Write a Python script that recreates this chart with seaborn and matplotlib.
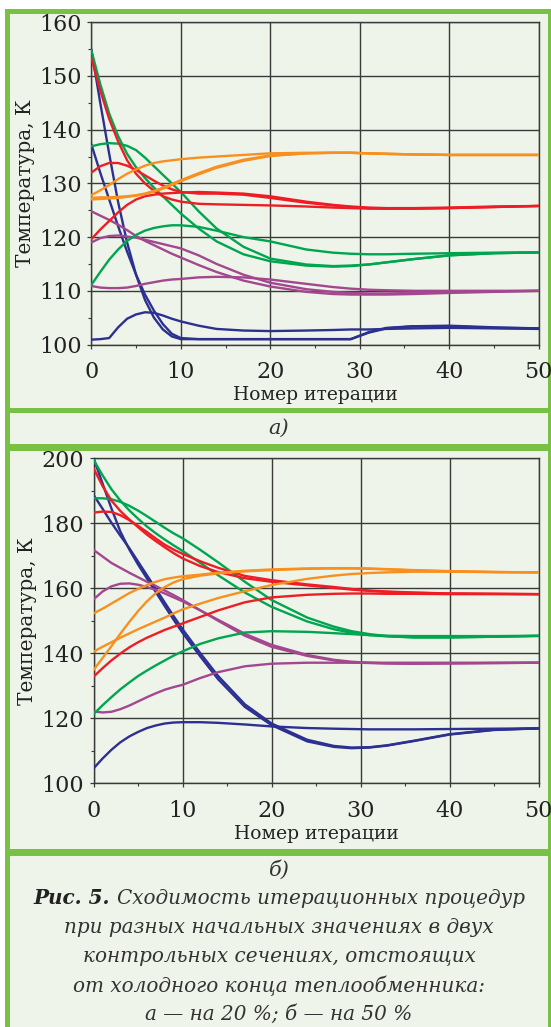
import matplotlib
matplotlib.use("Agg")
import matplotlib.pyplot as plt
from matplotlib.patches import Rectangle
from matplotlib.ticker import MultipleLocator
import numpy as np
import pandas as pd
import seaborn as sns

iters = [0, 1, 2, 3, 4, 5, 6, 7, 8, 9, 10, 12, 14, 17, 20, 24, 27, 29, 31, 33, 36, 40, 45, 50]

# panel a) -- 20 % from the cold end
a_blue1 = [155, 145, 135.5, 126.5, 119, 113, 108.3, 105, 102.8, 101.5, 101.0, 101, 101, 101, 101, 101, 101, 101, 102.3, 103.1, 103.4, 103.4, 103.1, 103.0]
a_blue2 = [137.3, 132, 127, 122, 117.3, 113, 109.3, 106.3, 103.8, 102, 101.2, 101, 101, 101, 101, 101, 101, 101, 102.2, 103.0, 103.4, 103.5, 103.2, 103.0]
a_blue3 = [100.9, 101.0, 101.2, 103.2, 104.8, 105.6, 106.0, 105.9, 105.4, 104.8, 104.3, 103.5, 102.9, 102.6, 102.5, 102.6, 102.7, 102.8, 102.8, 102.9, 103.0, 103.1, 103.0, 102.9]
a_purple1 = [124.8, 124, 123.2, 122.3, 121.3, 120.2, 119.3, 118.5, 117.7, 116.9, 116.2, 114.8, 113.5, 111.9, 110.8, 109.8, 109.4, 109.3, 109.3, 109.3, 109.4, 109.6, 109.8, 110.0]
a_purple2 = [119.0, 119.8, 120.2, 120.3, 120.1, 119.9, 119.5, 119.1, 118.7, 118.3, 117.9, 116.6, 115.0, 113.0, 111.5, 110.3, 109.8, 109.6, 109.5, 109.5, 109.6, 109.8, 109.9, 110.0]
a_purple3 = [110.9, 110.6, 110.5, 110.5, 110.6, 110.9, 111.3, 111.6, 111.9, 112.1, 112.2, 112.5, 112.6, 112.5, 112.1, 111.3, 110.7, 110.4, 110.2, 110.1, 110.0, 110.0, 110.0, 110.0]
a_green1 = [154.8, 148.5, 143, 138.8, 135.5, 133, 131, 129.2, 127.6, 126, 124.4, 121.6, 119.2, 116.8, 115.5, 114.7, 114.5, 114.6, 114.9, 115.3, 115.9, 116.6, 117.0, 117.15]
a_green2 = [136.9, 137.3, 137.5, 137.4, 137.0, 136.2, 134.8, 133.2, 131.6, 130.0, 128.4, 124.8, 121.6, 118.2, 116.0, 114.9, 114.6, 114.7, 114.9, 115.3, 115.9, 116.6, 117.0, 117.15]
a_green3 = [111.1, 113.5, 115.8, 117.7, 119.3, 120.4, 121.2, 121.7, 122.0, 122.2, 122.2, 121.9, 121.2, 120.0, 119.2, 117.7, 117.1, 116.9, 116.8, 116.8, 116.9, 117.0, 117.1, 117.15]
a_red1 = [153.4, 147.3, 142, 137.8, 134.3, 131.8, 130, 128.6, 127.6, 127, 126.6, 126.2, 126.1, 126.0, 125.9, 125.7, 125.5, 125.4, 125.3, 125.3, 125.3, 125.4, 125.6, 125.8]
a_red2 = [132.0, 133.2, 133.8, 133.8, 133.3, 132.5, 131.5, 130.5, 129.6, 128.9, 128.4, 128.1, 128.1, 127.9, 127.3, 126.4, 125.9, 125.6, 125.4, 125.3, 125.3, 125.4, 125.6, 125.8]
a_red3 = [119.6, 121.4, 123.0, 124.6, 126.0, 127.0, 127.6, 127.9, 128.1, 128.2, 128.3, 128.4, 128.3, 128.1, 127.6, 126.6, 126.0, 125.7, 125.5, 125.4, 125.4, 125.5, 125.7, 125.8]
a_orange1 = [127.8, 128.7, 129.7, 130.8, 131.8, 132.6, 133.3, 133.8, 134.1, 134.3, 134.5, 134.8, 135.0, 135.3, 135.6, 135.7, 135.7, 135.7, 135.6, 135.5, 135.4, 135.3, 135.3, 135.3]
a_orange2 = [127.3, 127.4, 127.4, 127.5, 127.6, 127.8, 128.1, 128.6, 129.2, 129.9, 130.6, 131.9, 133.1, 134.4, 135.2, 135.6, 135.7, 135.7, 135.6, 135.5, 135.4, 135.3, 135.3, 135.3]
a_orange3 = [127.0, 127.1, 127.2, 127.3, 127.5, 127.7, 128.0, 128.5, 129.0, 129.7, 130.4, 131.7, 132.9, 134.2, 135.1, 135.6, 135.7, 135.7, 135.6, 135.5, 135.4, 135.3, 135.3, 135.3]

# panel b) -- 50 % from the cold end
b_blue1 = [200, 192.3, 184.6, 177.5, 172, 167.3, 163, 158.8, 154.5, 150.3, 146.3, 139, 132, 123.5, 117.9, 112.9, 111.2, 110.8, 111.0, 111.6, 113.0, 115.0, 116.4, 116.9]
b_blue2 = [188.7, 184.5, 180.2, 176.2, 172.4, 168.2, 164, 159.8, 155.6, 151.4, 147.4, 140, 133, 124.3, 118.4, 113.4, 111.5, 111.0, 111.1, 111.7, 113.1, 115.1, 116.5, 116.9]
b_blue3 = [104.6, 107.6, 110.3, 112.6, 114.4, 115.8, 117.0, 117.8, 118.4, 118.7, 118.8, 118.8, 118.6, 118.1, 117.5, 117.0, 116.8, 116.7, 116.6, 116.6, 116.6, 116.7, 116.8, 116.9]
b_purple1 = [171.8, 169.8, 167.8, 166.3, 164.8, 163.4, 162, 160.7, 159.3, 157.9, 156.4, 153.2, 150, 145.4, 142, 139.2, 137.8, 137.2, 137.0, 136.9, 136.8, 136.9, 137.0, 137.1]
b_purple2 = [156.6, 159.0, 160.6, 161.4, 161.5, 161.1, 160.4, 159.5, 158.4, 157.2, 156.0, 153.2, 150.3, 146.0, 142.6, 139.5, 138.0, 137.4, 137.1, 136.9, 136.8, 136.9, 137.0, 137.1]
b_purple3 = [122.1, 121.8, 122.0, 122.8, 123.9, 125.2, 126.5, 127.7, 128.8, 129.6, 130.3, 132.4, 134.2, 136.0, 136.8, 137.1, 137.1, 137.1, 137.1, 137.1, 137.1, 137.1, 137.1, 137.1]
b_green1 = [199.5, 194.8, 190.5, 187, 184, 181.4, 179, 176.9, 175, 173.2, 171.5, 167.8, 164, 158.7, 154.3, 149.8, 147.4, 146.3, 145.6, 145.2, 144.9, 144.9, 145.1, 145.3]
b_green2 = [187.7, 187.7, 187.4, 186.6, 185.4, 183.9, 182.2, 180.4, 178.6, 176.9, 175.4, 171.8, 168, 162, 156.4, 151, 148.2, 146.8, 145.9, 145.3, 144.9, 144.9, 145.1, 145.4]
b_green3 = [121.3, 124.0, 126.5, 128.9, 131.0, 133.0, 134.7, 136.3, 137.8, 139.3, 140.6, 142.9, 144.6, 146.4, 146.8, 146.6, 146.2, 145.9, 145.6, 145.4, 145.3, 145.3, 145.3, 145.4]
b_red1 = [196.9, 191.5, 187, 183.8, 181.2, 178.8, 176.5, 174.5, 172.6, 170.8, 169.2, 166.8, 165, 163.1, 162, 160.9, 160.1, 159.6, 159.2, 158.9, 158.6, 158.4, 158.3, 158.2]
b_red2 = [183.3, 183.6, 183.5, 182.5, 181, 179.2, 177.3, 175.3, 173.4, 171.9, 170.6, 168.3, 166.3, 163.8, 162.5, 161.2, 160.4, 159.8, 159.3, 159.0, 158.7, 158.4, 158.3, 158.2]
b_red3 = [132.8, 135.4, 137.8, 139.9, 141.8, 143.4, 144.8, 146.0, 147.2, 148.2, 149.2, 151.2, 153.2, 155.7, 157.2, 158.0, 158.3, 158.4, 158.4, 158.3, 158.3, 158.2, 158.2, 158.2]
b_orange1 = [152.3, 153.7, 155.3, 156.9, 158.5, 159.8, 161.0, 162.0, 162.8, 163.3, 163.7, 164.2, 164.8, 165.4, 165.8, 166.1, 166.2, 166.2, 166.1, 165.9, 165.6, 165.3, 165.0, 164.9]
b_orange2 = [140.5, 142.0, 143.4, 144.8, 146.1, 147.4, 148.6, 149.8, 151.0, 152.3, 153.5, 155.3, 157.0, 159.1, 161.0, 162.9, 163.9, 164.4, 164.7, 164.9, 165.1, 165.1, 165.0, 164.9]
b_orange3 = [134.9, 138.5, 142.2, 146.0, 149.6, 153.0, 156.0, 158.5, 160.4, 161.8, 162.8, 163.9, 164.6, 165.2, 165.6, 166.0, 166.1, 166.1, 166.0, 165.8, 165.5, 165.2, 165.0, 164.9]

colors = {
    "blue": "#2c3091",
    "purple": "#a3478f",
    "green": "#00a54f",
    "red": "#ee1d25",
    "orange": "#f7901e",
}
frame_green = "#78c145"
panel_bg = "#eef4e9"
grid_col = "#3a3a3a"

curves_a = {
    "blue1": a_blue1, "blue2": a_blue2, "blue3": a_blue3,
    "purple1": a_purple1, "purple2": a_purple2, "purple3": a_purple3,
    "green1": a_green1, "green2": a_green2, "green3": a_green3,
    "red1": a_red1, "red2": a_red2, "red3": a_red3,
    "orange1": a_orange1, "orange2": a_orange2, "orange3": a_orange3,
}
curves_b = {
    "blue1": b_blue1, "blue2": b_blue2, "blue3": b_blue3,
    "purple1": b_purple1, "purple2": b_purple2, "purple3": b_purple3,
    "green1": b_green1, "green2": b_green2, "green3": b_green3,
    "red1": b_red1, "red2": b_red2, "red3": b_red3,
    "orange1": b_orange1, "orange2": b_orange2, "orange3": b_orange3,
}


def long_df(curves):
    rows = []
    for name, vals in curves.items():
        for it, t in zip(iters, vals):
            rows.append({"iter": it, "T": t, "curve": name})
    return pd.DataFrame(rows)


sns.set_theme(style="ticks")
plt.rcParams["font.family"] = ["DejaVu Serif"]

W, H = 551, 1027
fig = plt.figure(figsize=(W / 100, H / 100), dpi=100)
fig.patch.set_facecolor("white")


def px_rect(x0, y0, x1, y1, color):
    # rectangle given in pixel coords, origin top-left
    fig.patches.append(Rectangle((x0 / W, 1 - y1 / H), (x1 - x0) / W, (y1 - y0) / H,
                                 transform=fig.transFigure, facecolor=color,
                                 edgecolor="none", zorder=-10))


px_rect(5, 8.7, W + 5, H + 5, frame_green)
for y0, y1 in [(14, 407.7), (413.3, 444.3), (451, 849.3), (856, H + 5)]:
    px_rect(10, y0, 548, y1, panel_bg)


def make_axes(l, r, t, b):
    return fig.add_axes([l / W, 1 - b / H, (r - l) / W, (b - t) / H])


ax_a = make_axes(91.3, 538.7, 22.3, 344.5)
ax_b = make_axes(93.6, 538.5, 458.3, 783.3)

palette = {k: colors[k[:-1]] for k in curves_a}

for ax, curves, ylim, ymaj, ymin in [
    (ax_a, curves_a, (100, 160), 10, 5),
    (ax_b, curves_b, (100, 200), 20, 10),
]:
    df = long_df(curves)
    sns.lineplot(data=df, x="iter", y="T", hue="curve", units="curve", estimator=None,
                 palette=palette, legend=False, lw=1.7, sort=False, ax=ax, zorder=3)
    ax.set_facecolor(panel_bg)
    ax.set_xlim(0, 50)
    ax.set_ylim(*ylim)
    ax.xaxis.set_major_locator(MultipleLocator(10))
    ax.xaxis.set_minor_locator(MultipleLocator(5))
    ax.yaxis.set_major_locator(MultipleLocator(ymaj))
    ax.yaxis.set_minor_locator(MultipleLocator(ymin))
    ax.grid(which="major", color=grid_col, lw=1.0, zorder=1)
    for s in ax.spines.values():
        s.set_color(grid_col)
        s.set_linewidth(1.0)
    ax.tick_params(which="major", direction="out", length=3, width=0.9, color=grid_col,
                   labelsize=16, labelcolor="#222222")
    ax.tick_params(axis="x", which="major", pad=9)
    ax.tick_params(axis="y", which="major", pad=4)
    ax.tick_params(which="minor", direction="out", length=2.5, width=0.8, color=grid_col)
    ax.set_xlabel("Номер итерации", fontsize=13.5, color="#222222", labelpad=2)
    ax.set_ylabel("Температура, К", fontsize=14.5, color="#222222", labelpad=3)

fig.text(279 / W, 1 - 428 / H, "а)", ha="center", va="center", fontsize=15,
         style="italic", color="#333333")
fig.text(279 / W, 1 - 870 / H, "б)", ha="center", va="center", fontsize=15,
         style="italic", color="#333333")

# caption: bold italic lead-in + italic text, centred as one line
renderer = fig.canvas.get_renderer()
cap_y = 1 - 898 / H
t1 = fig.text(0, cap_y, "Рис. 5. ", fontsize=14.4, style="italic", weight="bold",
              color="#222222", va="center")
t2 = fig.text(0, cap_y, "Сходимость итерационных процедур", fontsize=14.4, style="italic",
              color="#333333", va="center")
w1 = t1.get_window_extent(renderer).width
w2 = t2.get_window_extent(renderer).width
x_start = 279 - (w1 + w2) / 2
t1.set_x(x_start / W)
t2.set_x((x_start + w1) / W)

other_lines = [
    "при разных начальных значениях в двух",
    "контрольных сечениях, отстоящих",
    "от холодного конца теплообменника:",
    "а — на 20 %; б — на 50 %",
]
for i, line in enumerate(other_lines):
    fig.text(279 / W, 1 - (927.5 + 29 * i) / H, line, ha="center", va="center",
             fontsize=14.4, style="italic", color="#333333")

fig.savefig("out.png", dpi=100)
